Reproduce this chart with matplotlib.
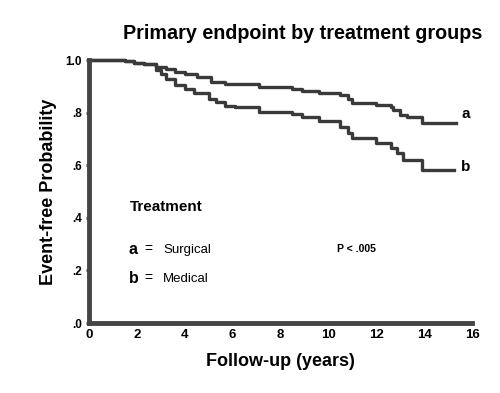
import matplotlib.pyplot as plt
import numpy as np

# step points (years, event-free probability)
t_a = [0, 1.5, 1.9, 2.3, 2.8, 3.2, 3.6, 4.0, 4.5, 5.1, 5.7, 6.2, 7.1, 8.5, 8.9, 9.6, 10.5, 10.8, 11.0, 12.0, 12.6, 12.7, 13.0, 13.3, 13.9, 15.35]
s_a = [1.0, 0.997, 0.99, 0.985, 0.975, 0.965, 0.956, 0.947, 0.934, 0.918, 0.911, 0.909, 0.899, 0.892, 0.883, 0.876, 0.867, 0.854, 0.838, 0.829, 0.82, 0.81, 0.793, 0.785, 0.759, 0.759]

t_b = [0, 1.5, 1.9, 2.3, 2.8, 3.0, 3.2, 3.6, 4.0, 4.4, 5.0, 5.3, 5.7, 6.1, 7.1, 8.5, 8.9, 9.6, 10.5, 10.8, 11.0, 12.0, 12.6, 12.85, 13.1, 13.9, 15.25]
s_b = [1.0, 0.997, 0.99, 0.985, 0.962, 0.947, 0.927, 0.905, 0.889, 0.876, 0.854, 0.841, 0.825, 0.82, 0.803, 0.797, 0.785, 0.769, 0.747, 0.721, 0.702, 0.686, 0.664, 0.645, 0.622, 0.582, 0.582]

xticks = np.arange(0, 17, 2)
yticks = [0, 0.2, 0.4, 0.6, 0.8, 1.0]
ylabels = [".0", ".2", ".4", ".6", ".8", "1.0"]

plt.rcParams['font.family'] = ['Liberation Sans', 'DejaVu Sans']

fig = plt.figure(figsize=(5, 3.93), dpi=100)
ax = fig.add_axes([0.178, 0.178, 0.766, 0.669])

col = '#3a3a3a'
ax.step(t_a, s_a, where='post', color=col, lw=2.4, clip_on=False)
ax.step(t_b, s_b, where='post', color=col, lw=2.4, clip_on=False)

ax.set_xlim(0, 16)
ax.set_ylim(0, 1.0)
ax.spines['top'].set_visible(False)
ax.spines['right'].set_visible(False)
for s in ['left', 'bottom']:
    ax.spines[s].set_linewidth(3.5)
    ax.spines[s].set_color('#444444')

ax.set_xticks(xticks)
ax.set_xticklabels([str(x) for x in xticks], fontweight='bold', fontsize=9.5)
ax.set_yticks(yticks)
ax.set_yticklabels(ylabels, fontweight='bold', fontsize=8.5)
ax.tick_params(axis='x', length=0, pad=4)
ax.tick_params(axis='y', length=2, width=2, color='#444444', pad=3)

ax.set_xlabel('Follow-up (years)', fontweight='bold', fontsize=13, labelpad=9)
ax.set_ylabel('Event-free Probability', fontweight='bold', fontsize=13, labelpad=6)
fig.text(0.606, 0.915, 'Primary endpoint by treatment groups', fontweight='bold',
         fontsize=14.2, ha='center', va='center')

ax.text(t_a[-1] + 0.2, s_a[-1] + 0.035, 'a', fontweight='bold', fontsize=11, va='center')
ax.text(t_b[-1] + 0.3, s_b[-1] + 0.01, 'b', fontweight='bold', fontsize=11, va='center')

ax.text(1.7, 0.44, 'Treatment', fontweight='bold', fontsize=11, va='center')
ax.text(1.65, 0.278, 'a', fontweight='bold', fontsize=11.5, va='center')
ax.text(2.3, 0.28, '=', fontsize=10, va='center')
ax.text(3.1, 0.276, 'Surgical', fontsize=9.5, va='center')
ax.text(1.65, 0.171, 'b', fontweight='bold', fontsize=11.5, va='center')
ax.text(2.3, 0.173, '=', fontsize=10, va='center')
ax.text(3.1, 0.169, 'Medical', fontsize=9.5, va='center')
ax.text(10.35, 0.283, 'P < .005', fontweight='bold', fontsize=7.5, va='center')

fig.savefig('out.png', dpi=100)
